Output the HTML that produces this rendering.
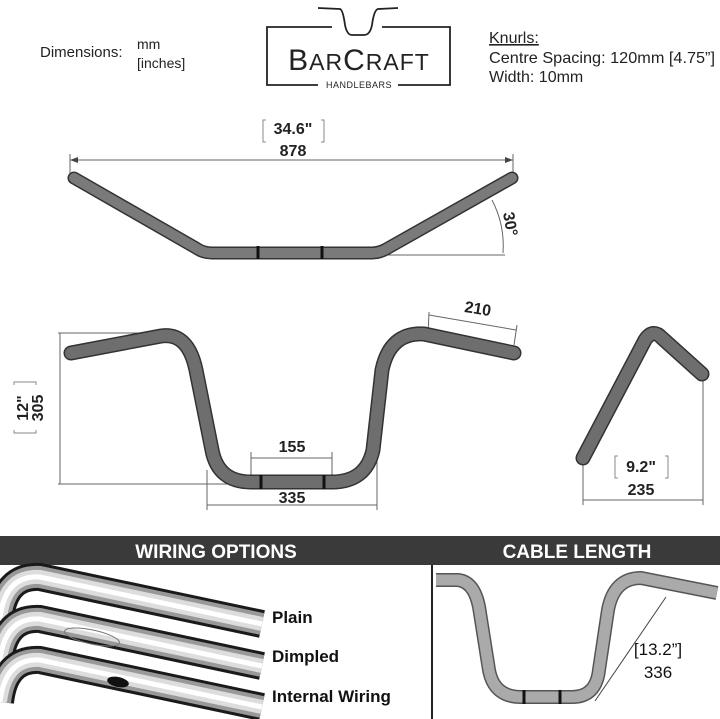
<!DOCTYPE html>
<html><head><meta charset="utf-8"><style>
html,body{margin:0;padding:0;background:#fff;}
svg{display:block;font-family:"Liberation Sans",sans-serif;}
</style></head><body>
<svg width="720" height="719" viewBox="0 0 720 719" xmlns="http://www.w3.org/2000/svg">
<!-- header -->
<text x="40" y="57" font-size="15" fill="#222">Dimensions:</text>
<text x="137" y="49" font-size="14" fill="#222">mm</text>
<text x="137" y="68" font-size="14" fill="#222">[inches]</text>
<g fill="none" stroke="#222" stroke-width="1.8">
<polyline points="332,27 267,27 267,85 318,85"/>
<polyline points="382,27 450,27 450,85 398,85"/>
<path d="M318,8 L340,9 Q343,10 345,25 Q347,35 352,35 L364,35 Q370,35 372,25 Q374,10 378,9 L398,8"/>
</g>
<text x="359" y="70" font-size="30" text-anchor="middle" fill="#222" letter-spacing="1">B<tspan font-size="23">AR</tspan>C<tspan font-size="23">RAFT</tspan></text>
<text x="359" y="88" font-size="9" text-anchor="middle" fill="#222" letter-spacing="0.5">HANDLEBARS</text>
<text x="489" y="43" font-size="16" fill="#222" text-decoration="underline">Knurls:</text>
<text x="489" y="63" font-size="16" fill="#222" textLength="226" lengthAdjust="spacingAndGlyphs">Centre Spacing: 120mm [4.75”]</text>
<text x="489" y="82" font-size="16" fill="#222">Width: 10mm</text>

<!-- top view -->
<g stroke="#666" stroke-width="1" fill="none">
<line x1="70" y1="160" x2="513" y2="160"/><line x1="70" y1="154" x2="70" y2="178"/><line x1="513" y1="154" x2="513" y2="178"/>
<line x1="380" y1="255" x2="505" y2="255"/>
<path d="M492,200 Q505,225 503,253"/>
</g>
<path d="M70,160 l8,-3 v6 z M513,160 l-8,-3 v6 z" fill="#444"/>
<text x="293" y="134" font-size="16" font-weight="bold" text-anchor="middle" fill="#222">34.6"</text>
<path d="M266,120 h-3 v22 h3 M321,120 h3 v22 h-3" stroke="#888" fill="none"/>
<text x="293" y="156" font-size="16" font-weight="bold" text-anchor="middle" fill="#222">878</text>
<text x="0" y="0" font-size="16" font-weight="bold" fill="#222" transform="translate(503,213) rotate(80)">30°</text>
<g fill="none" stroke-linecap="round" stroke-linejoin="round">
<path d="M74,178 L196,248 Q203,253 212,253 L372,253 Q380,253 388,248 L512,178" stroke="#333" stroke-width="13"/>
<path d="M74,178 L196,248 Q203,253 212,253 L372,253 Q380,253 388,248 L512,178" stroke="#7a7a7a" stroke-width="10"/>
</g>
<g stroke="#111" stroke-width="3"><line x1="258" y1="246" x2="258" y2="259"/><line x1="322" y1="246" x2="322" y2="259"/></g>

<!-- front view -->
<g stroke="#666" stroke-width="1" fill="none">
<line x1="60" y1="333" x2="60" y2="484"/><line x1="58" y1="333" x2="160" y2="333"/><line x1="58" y1="484" x2="240" y2="484"/>
<line x1="207" y1="505" x2="377" y2="505"/><line x1="207" y1="470" x2="207" y2="510"/><line x1="377" y1="460" x2="377" y2="510"/>
<line x1="251" y1="458" x2="332" y2="458"/><line x1="251" y1="452" x2="251" y2="478"/><line x1="332" y1="452" x2="332" y2="478"/>
<line x1="429" y1="315" x2="516" y2="330"/><line x1="429" y1="312" x2="428" y2="335"/><line x1="517" y1="325" x2="514" y2="345"/>
</g>
<text transform="translate(43,408) rotate(-90)" font-size="16" font-weight="bold" text-anchor="middle" fill="#222">305</text>
<text transform="translate(28,408) rotate(-90)" font-size="16" font-weight="bold" text-anchor="middle" fill="#222">12"</text>
<path d="M14,385 v-3 h22 v3 M14,430 v3 h22 v-3" stroke="#888" fill="none"/>
<text x="292" y="452" font-size="16" font-weight="bold" text-anchor="middle" fill="#222">155</text>
<text x="292" y="503" font-size="16" font-weight="bold" text-anchor="middle" fill="#222">335</text>
<text transform="translate(477,314) rotate(9)" font-size="16" font-weight="bold" text-anchor="middle" fill="#222">210</text>
<g fill="none" stroke-linecap="round" stroke-linejoin="round">
<path d="M71,353 L161,336 Q188,332 196,370 L212,450 Q218,482 251,482 L332,482 Q366,482 373,450 L382,370 Q390,332 424,334 L514,353" stroke="#333" stroke-width="15"/>
<path d="M71,353 L161,336 Q188,332 196,370 L212,450 Q218,482 251,482 L332,482 Q366,482 373,450 L382,370 Q390,332 424,334 L514,353" stroke="#6e6e6e" stroke-width="12"/>
</g>
<g stroke="#111" stroke-width="3"><line x1="261" y1="475" x2="261" y2="489"/><line x1="324" y1="475" x2="324" y2="489"/></g>

<!-- side view -->
<g stroke="#666" stroke-width="1" fill="none">
<line x1="583" y1="465" x2="583" y2="505"/><line x1="703" y1="380" x2="703" y2="505"/><line x1="583" y1="500" x2="703" y2="500"/>
</g>
<path d="M618,456 h-3 v22 h3 M665,456 h3 v22 h-3" stroke="#888" fill="none"/>
<text x="641" y="472" font-size="16" font-weight="bold" text-anchor="middle" fill="#222">9.2"</text>
<text x="641" y="495" font-size="16" font-weight="bold" text-anchor="middle" fill="#222">235</text>
<g fill="none" stroke-linecap="round" stroke-linejoin="round">
<path d="M583,458 L645,340 Q653,328 662,338 L702,374" stroke="#333" stroke-width="15"/>
<path d="M583,458 L645,340 Q653,328 662,338 L702,374" stroke="#6e6e6e" stroke-width="12"/>
</g>

<!-- band -->
<rect x="0" y="536" width="720" height="29" fill="#3a3a3a"/>
<text x="216" y="558" font-size="19" font-weight="bold" fill="#fff" text-anchor="middle">WIRING OPTIONS</text>
<text x="577" y="558" font-size="19" font-weight="bold" fill="#fff" text-anchor="middle">CABLE LENGTH</text>
<line x1="432" y1="565" x2="432" y2="719" stroke="#222" stroke-width="2"/>

<!-- chrome bars -->
<g fill="none" stroke-linecap="butt">
<g id="b1">
<path d="M0,618 Q5,575 40,577 L262,624" stroke="#1a1a1a" stroke-width="28"/>
<path d="M0,618 Q5,575 40,577 L262,624" stroke="#999" stroke-width="22"/>
<path d="M0,618 Q5,575 40,577 L262,624" stroke="#ddd" stroke-width="14"/>
<path d="M0,618 Q5,575 40,577 L262,624" stroke="#fff" stroke-width="5"/>
</g>
<path d="M0,660 Q5,617 40,619 L262,666" stroke="#1a1a1a" stroke-width="28"/>
<path d="M0,660 Q5,617 40,619 L262,666" stroke="#999" stroke-width="22"/>
<path d="M0,660 Q5,617 40,619 L262,666" stroke="#ddd" stroke-width="14"/>
<path d="M0,660 Q5,617 40,619 L262,666" stroke="#fff" stroke-width="5"/>
<path d="M0,702 Q5,658 40,660 L262,707" stroke="#1a1a1a" stroke-width="28"/>
<path d="M0,702 Q5,658 40,660 L262,707" stroke="#999" stroke-width="22"/>
<path d="M0,702 Q5,658 40,660 L262,707" stroke="#ddd" stroke-width="14"/>
<path d="M0,702 Q5,658 40,660 L262,707" stroke="#fff" stroke-width="5"/>
</g>
<ellipse cx="92" cy="637" rx="28" ry="7" fill="none" stroke="#777" transform="rotate(12 92 637)"/>
<ellipse cx="118" cy="682" rx="11" ry="5" fill="#111" transform="rotate(12 118 682)"/>
<text x="272" y="623" font-size="17" font-weight="bold" fill="#111">Plain</text>
<text x="272" y="662" font-size="17" font-weight="bold" fill="#111">Dimpled</text>
<text x="272" y="702" font-size="17" font-weight="bold" fill="#111">Internal Wiring</text>

<!-- cable length -->
<g fill="none" stroke-linecap="butt" stroke-linejoin="round">
<path d="M436,580 L458,580 Q476,582 480,613 L489,670 Q494,697 521,697 L572,697 Q596,697 599,670 L608,610 Q614,578 641,578 L717,593" stroke="#555" stroke-width="14"/>
<path d="M436,580 L458,580 Q476,582 480,613 L489,670 Q494,697 521,697 L572,697 Q596,697 599,670 L608,610 Q614,578 641,578 L717,593" stroke="#aaa" stroke-width="11"/>
</g>
<g stroke="#111" stroke-width="3"><line x1="524" y1="690" x2="524" y2="704"/><line x1="560" y1="690" x2="560" y2="704"/></g>
<line x1="666" y1="597" x2="595" y2="701" stroke="#444" stroke-width="1"/>
<text x="658" y="655" font-size="17" fill="#111" text-anchor="middle">[13.2”]</text>
<text x="658" y="678" font-size="17" fill="#111" text-anchor="middle">336</text>
</svg>
</body></html>
